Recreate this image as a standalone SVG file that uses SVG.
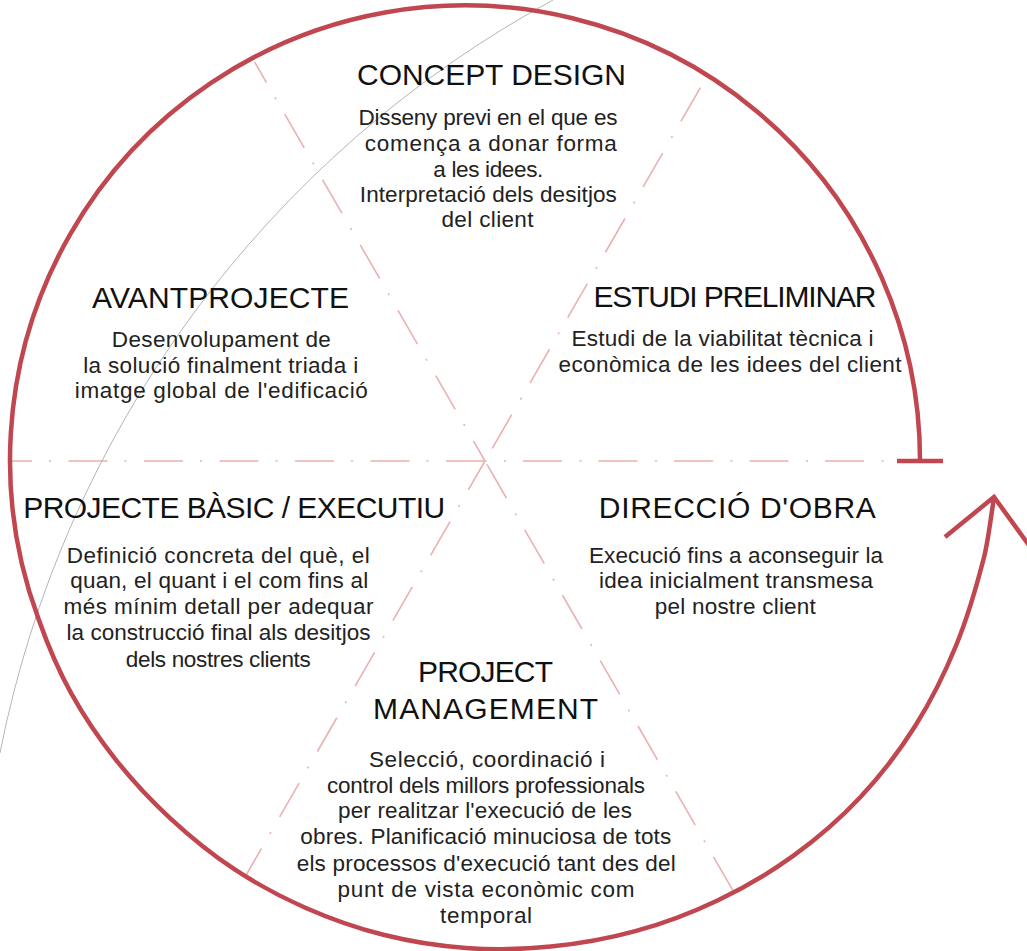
<svg xmlns="http://www.w3.org/2000/svg" width="1027" height="951" viewBox="0 0 1027 951">
<style>
.t{font-family:"Liberation Sans",Arial,sans-serif;font-size:30px;fill:#111;text-anchor:middle}
.b{font-family:"Liberation Sans",Arial,sans-serif;font-size:22.5px;fill:#222;text-anchor:middle}
.red{fill:none;stroke:#c0474f;stroke-width:4.5}
.dash{fill:none;stroke:#ebb0b0;stroke-width:1.6;stroke-dasharray:39 17.5 2 17}
.guide{fill:none;stroke:#b5b5b5;stroke-width:1}
</style>
<rect width="1027" height="951" fill="#fff"/>
<g id="connectors">
  <path class="dash" d="M485 461 L12 461" stroke-dashoffset="0"/>
  <path class="dash" d="M485 461 L897 461" stroke-dashoffset="37.5"/>
  <path class="dash" d="M485 461 L254.6 62" stroke-dashoffset="16"/>
  <path class="dash" d="M485 461 L734.4 893" stroke-dashoffset="71.5"/>
  <path class="dash" d="M485 461 L706 78" stroke-dashoffset="61"/>
  <path class="dash" d="M485 461 L245 877" stroke-dashoffset="5.6"/>
  <path class="guide" d="M553 0 A1099 1099 0 0 0 0 753"/>
  <path class="red" d="M920 461 A455 455 0 1 0 38.4 618.6 C47.3 643.9 58.58 670.77 71.5 693.8 C84.42 716.83 99.43 739.03 115.9 759.8 C132.37 780.57 150.7 800.25 170.3 818.4 C189.9 836.55 211 853.82 233.5 868.7 C256 883.58 280.32 896.68 305.3 907.7 C330.28 918.72 356.62 928.08 383.4 934.8 C410.18 941.52 438.12 946.03 466 948 C493.88 949.97 522.48 949.4 550.7 946.6 C578.92 943.8 607.58 938.85 635.3 931.2 C663.02 923.55 690.68 913.25 717 900.7 C743.32 888.15 769.28 873.18 793.2 855.9 C817.12 838.62 840.12 818.73 860.5 797 C880.88 775.27 899.5 750.92 915.5 725.5 C931.5 700.08 945.08 672.53 956.5 644.5 C967.92 616.47 977.73 581.82 984 557.3 C988.1 541.4 990.73 517.37 994.1 497.4"/>
  <path class="red" d="M897 461 H943"/>
  <path class="red" d="M945 537 L994 497 L1031 548"/>
</g>
<g id="concept-design">
  <text class="t" x="491.5" y="85" textLength="269">CONCEPT DESIGN</text>
  <text class="b" x="488" y="125" textLength="259">Disseny previ en el que es</text>
  <text class="b" x="490.8" y="151" textLength="252">comença a donar forma</text>
  <text class="b" x="488.3" y="176.7" textLength="110">a les idees.</text>
  <text class="b" x="488.3" y="201.7" textLength="257">Interpretació dels desitjos</text>
  <text class="b" x="487.5" y="226.7" textLength="92">del client</text>
</g>
<g id="estudi-preliminar">
  <text class="t" x="735" y="306.7" textLength="283">ESTUDI PRELIMINAR</text>
  <text class="b" x="722.5" y="345.7" textLength="302">Estudi de la viabilitat tècnica i</text>
  <text class="b" x="730" y="371.7" textLength="343">econòmica de les idees del client</text>
</g>
<g id="avantprojecte">
  <text class="t" x="220.5" y="308.3" textLength="257">AVANTPROJECTE</text>
  <text class="b" x="221.3" y="346.7" textLength="219">Desenvolupament de</text>
  <text class="b" x="220.7" y="373.3" textLength="275">la solució finalment triada i</text>
  <text class="b" x="221.3" y="398.3" textLength="293">imatge global de l'edificació</text>
</g>
<g id="projecte-basic-executiu">
  <text class="t" x="234.2" y="518.3" textLength="422">PROJECTE BÀSIC / EXECUTIU</text>
  <text class="b" x="218.3" y="562.7" textLength="303">Definició concreta del què, el</text>
  <text class="b" x="219.2" y="588.3" textLength="298">quan, el quant i el com fins al</text>
  <text class="b" x="218.5" y="614" textLength="310">més mínim detall per adequar</text>
  <text class="b" x="218.5" y="640" textLength="304">la construcció final als desitjos</text>
  <text class="b" x="218.3" y="666.5" textLength="185">dels nostres clients</text>
</g>
<g id="direccio-obra">
  <text class="t" x="737.3" y="518.3" textLength="277">DIRECCIÓ D'OBRA</text>
  <text class="b" x="736" y="563.3" textLength="294">Execució fins a aconseguir la</text>
  <text class="b" x="736" y="588.3" textLength="274">idea inicialment transmesa</text>
  <text class="b" x="735.3" y="614.3" textLength="161">pel nostre client</text>
</g>
<g id="project-management">
  <text class="t" x="485.5" y="681.7" textLength="135">PROJECT</text>
  <text class="t" x="485.6" y="719" textLength="225">MANAGEMENT</text>
  <text class="b" x="487" y="766.7" textLength="236">Selecció, coordinació i</text>
  <text class="b" x="486" y="792.7" textLength="318">control dels millors professionals</text>
  <text class="b" x="485" y="818.3" textLength="294">per realitzar l'execució de les</text>
  <text class="b" x="485.8" y="844.3" textLength="371">obres. Planificació minuciosa de tots</text>
  <text class="b" x="486.2" y="871" textLength="379">els processos d'execució tant des del</text>
  <text class="b" x="486" y="896.7" textLength="297">punt de vista econòmic com</text>
  <text class="b" x="486.1" y="922.7" textLength="92">temporal</text>
</g>
</svg>
